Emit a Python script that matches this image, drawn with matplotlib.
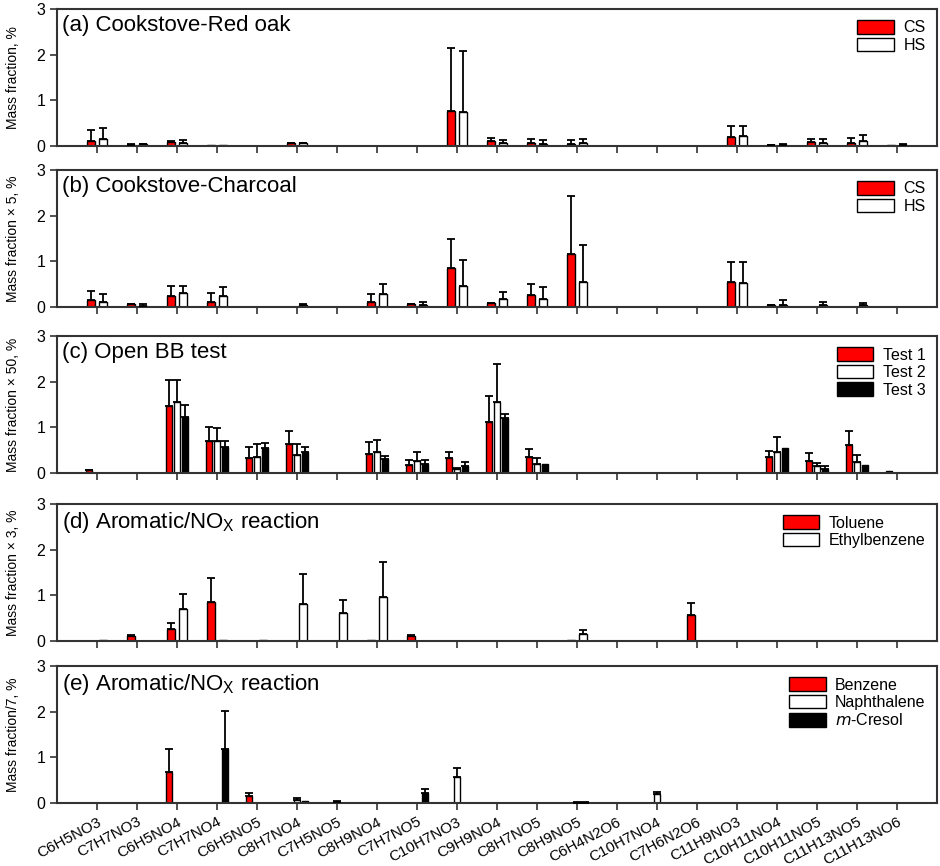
import numpy as np
import matplotlib
matplotlib.use("Agg")
import matplotlib.pyplot as plt

plt.rcParams['font.family'] = ['Liberation Sans', 'DejaVu Sans']

categories = ["C6H5NO3", "C7H7NO3", "C6H5NO4", "C7H7NO4", "C6H5NO5", "C8H7NO4",
              "C7H5NO5", "C8H9NO4", "C7H7NO5", "C10H7NO3", "C9H9NO4", "C8H7NO5",
              "C8H9NO5", "C6H4N2O6", "C10H7NO4", "C7H6N2O6", "C11H9NO3", "C10H11NO4",
              "C10H11NO5", "C11H13NO5", "C11H13NO6"]

# (a) cookstove - red oak
a_cs = [0.12, 0.03, 0.09, 0.03, 0, 0.06, 0, 0.01, 0, 0.77, 0.10, 0.06, 0.05, 0, 0, 0, 0.20, 0.02, 0.08, 0.06, 0.02]
a_cs_err = [0.23, 0.01, 0.03, 0, 0, 0.01, 0, 0, 0, 1.37, 0.07, 0.09, 0.08, 0, 0, 0, 0.24, 0.01, 0.07, 0.11, 0]
a_hs = [0.15, 0.04, 0.06, 0.03, 0, 0.06, 0, 0.01, 0, 0.74, 0.07, 0.05, 0.07, 0, 0, 0, 0.22, 0.03, 0.06, 0.12, 0.03]
a_hs_err = [0.25, 0.01, 0.08, 0, 0, 0.01, 0, 0, 0, 1.35, 0.06, 0.08, 0.09, 0, 0, 0, 0.22, 0.01, 0.09, 0.13, 0.01]

# (b) cookstove - charcoal
b_cs = [0.15, 0.06, 0.25, 0.10, 0, 0, 0, 0.10, 0.06, 0.86, 0.08, 0.27, 1.17, 0, 0, 0, 0.55, 0.04, 0, 0.01, 0]
b_cs_err = [0.19, 0.01, 0.20, 0.21, 0, 0, 0, 0.18, 0.01, 0.64, 0.01, 0.24, 1.27, 0, 0, 0, 0.43, 0.01, 0, 0, 0]
b_hs = [0.10, 0.03, 0.31, 0.25, 0, 0.05, 0, 0.29, 0.05, 0.45, 0.18, 0.18, 0.55, 0, 0, 0, 0.52, 0.05, 0.04, 0.04, 0]
b_hs_err = [0.19, 0.04, 0.15, 0.18, 0, 0.01, 0, 0.21, 0.07, 0.57, 0.14, 0.25, 0.81, 0, 0, 0, 0.46, 0.10, 0.07, 0.04, 0]

# (c) open BB test
c_t1 = [0.06, 0, 1.47, 0.70, 0.34, 0.63, 0, 0.42, 0.18, 0.34, 1.12, 0.36, 0, 0, 0, 0, 0, 0.36, 0.27, 0.62, 0.04]
c_t1_err = [0.01, 0, 0.56, 0.31, 0.22, 0.29, 0, 0.25, 0.10, 0.12, 0.57, 0.17, 0, 0, 0, 0, 0, 0.13, 0.16, 0.30, 0]
c_t2 = [0, 0, 1.55, 0.70, 0.36, 0.39, 0, 0.47, 0.27, 0.09, 1.55, 0.20, 0, 0, 0, 0, 0, 0.46, 0.15, 0.25, 0]
c_t2_err = [0, 0, 0.49, 0.28, 0.28, 0.25, 0, 0.25, 0.19, 0.01, 0.85, 0.13, 0, 0, 0, 0, 0, 0.32, 0.06, 0.15, 0]
c_t3 = [0, 0, 1.23, 0.56, 0.54, 0.45, 0, 0.31, 0.20, 0.15, 1.20, 0.20, 0, 0, 0, 0, 0, 0.54, 0.08, 0.17, 0.01]
c_t3_err = [0, 0, 0.27, 0.14, 0.12, 0.11, 0, 0.07, 0.08, 0.10, 0.09, 0, 0, 0, 0, 0, 0, 0, 0.07, 0, 0]

# (d) aromatic/NOx: toluene, ethylbenzene
d_tol = [0, 0.12, 0.27, 0.86, 0, 0, 0, 0.02, 0.12, 0, 0, 0, 0.02, 0, 0, 0.56, 0, 0, 0, 0, 0]
d_tol_err = [0, 0.01, 0.12, 0.53, 0, 0, 0, 0, 0.01, 0, 0, 0, 0, 0, 0, 0.28, 0, 0, 0, 0, 0]
d_eth = [0.02, 0, 0.71, 0.02, 0.02, 0.82, 0.62, 0.97, 0, 0, 0, 0, 0.15, 0, 0, 0, 0, 0, 0, 0, 0]
d_eth_err = [0, 0, 0.31, 0, 0, 0.64, 0.29, 0.76, 0, 0, 0, 0, 0.09, 0, 0, 0, 0, 0, 0, 0, 0]

# (e) aromatic/NOx: benzene, naphthalene, m-cresol
e_benz = [0, 0, 0.67, 0, 0.15, 0, 0, 0, 0, 0, 0, 0, 0, 0, 0, 0, 0, 0, 0, 0, 0]
e_benz_err = [0, 0, 0.52, 0, 0.06, 0, 0, 0, 0, 0, 0, 0, 0, 0, 0, 0, 0, 0, 0, 0, 0]
e_naph = [0, 0.01, 0.01, 0, 0, 0.07, 0.03, 0, 0, 0.57, 0, 0, 0.01, 0, 0.20, 0, 0, 0, 0, 0, 0]
e_naph_err = [0, 0, 0, 0, 0, 0.05, 0.01, 0, 0, 0.19, 0, 0, 0.01, 0, 0.05, 0, 0, 0, 0, 0, 0]
e_cres = [0, 0, 0, 1.19, 0, 0.05, 0, 0, 0.21, 0, 0, 0, 0.01, 0, 0, 0, 0, 0, 0, 0, 0]
e_cres_err = [0, 0, 0, 0.83, 0, 0, 0, 0, 0.09, 0, 0, 0, 0.01, 0, 0, 0, 0, 0, 0, 0, 0]

RED = "#ff0000"
WHITE = "#ffffff"
BLACK = "#000000"
SPINE = "#333333"

panels = [
    ("(a) Cookstove-Red oak", "Mass fraction, %",
     [("CS", a_cs, a_cs_err, RED), ("HS", a_hs, a_hs_err, WHITE)]),
    ("(b) Cookstove-Charcoal", "Mass fraction \u00d7 5, %",
     [("CS", b_cs, b_cs_err, RED), ("HS", b_hs, b_hs_err, WHITE)]),
    ("(c) Open BB test", "Mass fraction \u00d7 50, %",
     [("Test 1", c_t1, c_t1_err, RED), ("Test 2", c_t2, c_t2_err, WHITE),
      ("Test 3", c_t3, c_t3_err, BLACK)]),
    ("(d) Aromatic/NO$_\\mathregular{X}$ reaction", "Mass fraction \u00d7 3, %",
     [("Toluene", d_tol, d_tol_err, RED), ("Ethylbenzene", d_eth, d_eth_err, WHITE)]),
    ("(e) Aromatic/NO$_\\mathregular{X}$ reaction", "Mass fraction/7, %",
     [("Benzene", e_benz, e_benz_err, RED), ("Naphthalene", e_naph, e_naph_err, WHITE),
      ("$\\mathit{m}$-Cresol", e_cres, e_cres_err, BLACK)]),
]

fig = plt.figure(figsize=(9.4, 8.66), dpi=100)
bottoms = [0.8314, 0.6455, 0.4538, 0.2598, 0.0727]
x = np.arange(len(categories))

for (title, ylabel, series), bot in zip(panels, bottoms):
    ax = fig.add_axes([0.0606, bot, 0.936, 0.158])
    n = len(series)
    if n == 2:
        width, step = 0.19, 0.30
    else:
        width, step = 0.15, 0.20
    offsets = (np.arange(n) - (n - 1) / 2) * step
    for (name, vals, errs, col), off in zip(series, offsets):
        v = np.array(vals, dtype=float)
        e = np.array(errs, dtype=float)
        v[v == 0] = np.nan
        ax.bar(x + off, v, width, color=col, edgecolor="black", linewidth=1.0,
               label=name, zorder=2)
        m = e > 0
        ax.errorbar(x[m] + off, v[m], yerr=[np.zeros(m.sum()), e[m]], fmt="none",
                    ecolor="black", elinewidth=1.3, capsize=3, capthick=1.3, zorder=3)
    ax.set_xlim(-1, len(categories))
    ax.set_ylim(0, 3)
    ax.set_yticks([0, 1, 2, 3])
    ax.set_xticks(x)
    for s in ax.spines.values():
        s.set_color(SPINE)
        s.set_linewidth(1.5)
    ax.tick_params(axis="both", colors=SPINE, labelcolor="black", length=5, width=1.2,
                   labelsize=11.5)
    ax.set_ylabel(ylabel, fontsize=10, labelpad=12)
    ax.text(0.006, 0.955, title, transform=ax.transAxes, va="top", ha="left", fontsize=16)
    ax.legend(loc="upper right", frameon=False, fontsize=11.5, handlelength=2.3,
              handleheight=0.9, labelspacing=0.15, handletextpad=0.6, borderaxespad=0.3)
    if bot == bottoms[-1]:
        ax.set_xticklabels(categories, rotation=28, ha="right", rotation_mode="anchor",
                           fontsize=11)
    else:
        ax.set_xticklabels([])

fig.savefig("out.png", dpi=100)
